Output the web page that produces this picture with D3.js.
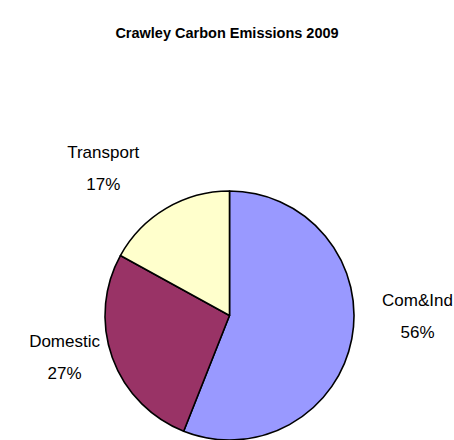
<!DOCTYPE html>
<html>
<head>
<meta charset="utf-8">
<script src="https://cdn.jsdelivr.net/npm/d3@7"></script>
<style>
  html, body { margin: 0; padding: 0; background: #fff; }
  svg { display: block; font-family: Arial, "Liberation Sans", sans-serif; }
</style>
</head>
<body>
<svg id="chart" width="454" height="440"></svg>
<script>
// Crawley carbon emissions by sector, 2009 (share of total, %)
const categories = ["Com&Ind", "Domestic", "Transport"];
const shares = [56, 27, 17];
const sliceColors = ["#9999FF", "#993366", "#FFFFCC"];
const chartTitle = "Crawley Carbon Emissions 2009";

const width = 454, height = 440;
const cx = 229.5, cy = 315.5, radius = 124.5;

// label placement: angle shift (deg) from slice mid-angle and distance from centre
const labelLayout = [
  { shift: -10.8, dist: 188 },
  { shift: 5.8, dist: 170 },
  { shift: -10, dist: 194 }
];

const svg = d3.select("#chart");

svg.append("text")
  .attr("x", 227)
  .attr("y", 38)
  .attr("text-anchor", "middle")
  .attr("font-weight", "bold")
  .attr("font-size", 14.5)
  .attr("fill", "#000")
  .text(chartTitle);

const data = categories.map((c, i) => ({ name: c, value: shares[i], color: sliceColors[i] }));

const pie = d3.pie().sort(null).value(d => d.value);
const arcs = pie(data);
const arc = d3.arc().innerRadius(0).outerRadius(radius);

const g = svg.append("g").attr("transform", `translate(${cx},${cy})`);

g.selectAll("path")
  .data(arcs)
  .join("path")
  .attr("d", arc)
  .attr("fill", d => d.data.color)
  .attr("stroke", "#000")
  .attr("stroke-width", 1.6)
  .attr("stroke-linejoin", "round");

const total = d3.sum(shares);

const labels = g.selectAll("g.label")
  .data(arcs)
  .join("g")
  .attr("class", "label")
  .attr("transform", (d, i) => {
    const mid = (d.startAngle + d.endAngle) / 2 + labelLayout[i].shift * Math.PI / 180;
    const r = labelLayout[i].dist;
    return `translate(${r * Math.sin(mid)},${-r * Math.cos(mid)})`;
  });

labels.append("text")
  .attr("text-anchor", "middle")
  .attr("y", -10)
  .attr("font-size", 17)
  .attr("fill", "#000")
  .text(d => d.data.name);

labels.append("text")
  .attr("text-anchor", "middle")
  .attr("y", 22)
  .attr("font-size", 17)
  .attr("fill", "#000")
  .text(d => Math.round(d.data.value / total * 100) + "%");
</script>
</body>
</html>
